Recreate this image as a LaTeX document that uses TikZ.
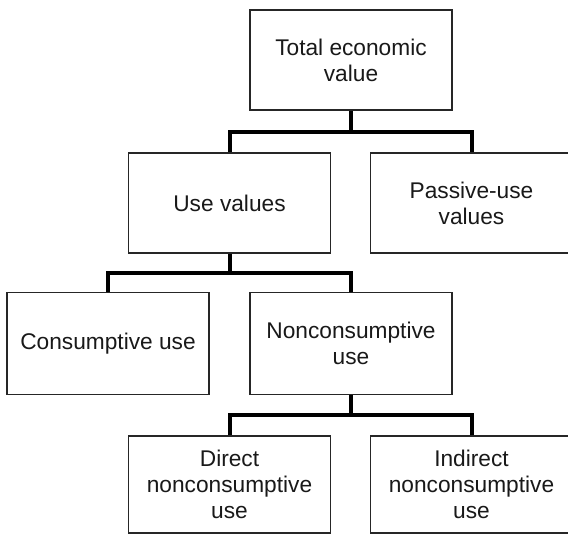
\documentclass[tikz,border=0pt]{standalone}
\usepackage{fontspec}
\setmainfont{Liberation Sans}
\begin{document}
\begin{tikzpicture}[x=1pt,y=-1pt,
  box/.style={draw=black!85, line width=1.4pt, fill=white, minimum width=202pt,
    minimum height=100pt, inner sep=0pt, align=center, text=black!90,
    font=\fontsize{22.7}{26}\selectfont},
  conn/.style={line width=4pt, black, line join=miter}]
\useasboundingbox (0,0) rectangle (568,535);
\clip (0,0) rectangle (568,535);
\node[box] (tev) at (351,60) {Total economic\\value};
\node[box] (use) at (229.5,203) {Use values};
\node[box] (pas) at (471.5,203) {Passive-use\\values};
\node[box, minimum height=102pt] (con) at (108,343.5) {Consumptive use};
\node[box, minimum height=102pt] (non) at (351,343.5) {Nonconsumptive\\use};
\node[box, minimum height=97pt] (dir) at (229.5,484.5) {Direct\\nonconsumptive\\use};
\node[box, minimum height=97pt] (ind) at (471.5,484.5) {Indirect\\nonconsumptive\\use};
\coordinate (b1) at (351,132);
\coordinate (b2) at (229.5,273);
\coordinate (b3) at (351,415);
\draw[conn] (tev.south) -- (b1);
\draw[conn] (use.north) |- (b1) -| (pas.north);
\draw[conn] (use.south) -- (b2);
\draw[conn] (con.north) |- (b2) -| (non.north);
\draw[conn] (non.south) -- (b3);
\draw[conn] (dir.north) |- (b3) -| (ind.north);
\end{tikzpicture}
\end{document}
